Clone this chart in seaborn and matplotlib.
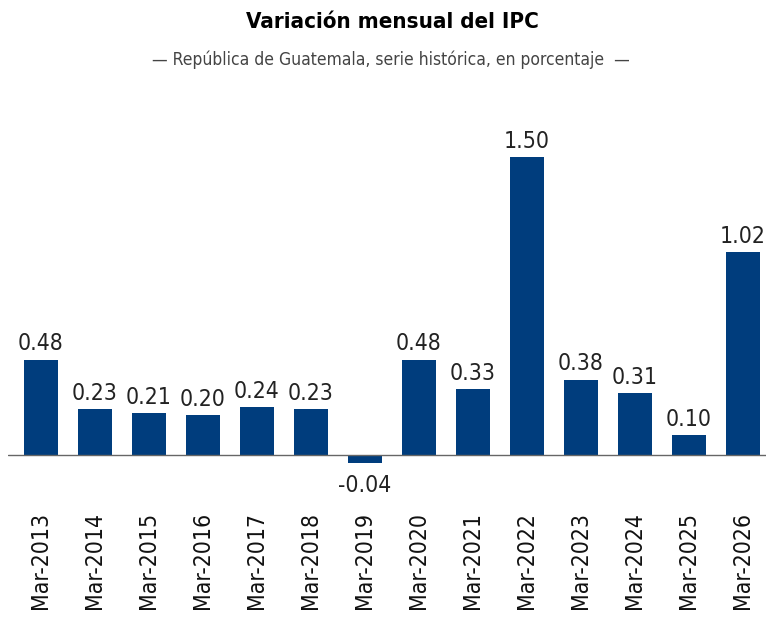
import matplotlib
matplotlib.use("Agg")
import matplotlib.pyplot as plt
import seaborn as sns
import pandas as pd

categories = ["Mar-2013", "Mar-2014", "Mar-2015", "Mar-2016", "Mar-2017", "Mar-2018", "Mar-2019",
              "Mar-2020", "Mar-2021", "Mar-2022", "Mar-2023", "Mar-2024", "Mar-2025", "Mar-2026"]
values = [0.48, 0.23, 0.21, 0.20, 0.24, 0.23, -0.04, 0.48, 0.33, 1.50, 0.38, 0.31, 0.10, 1.02]
title = "Variación mensual del IPC"
subtitle = "— República de Guatemala, serie histórica, en porcentaje  —"

df = pd.DataFrame({"mes": categories, "valor": values})

sns.set_theme(style="white")
plt.rcParams["font.family"] = ["DejaVu Sans"]

W, H = 766, 620
fig = plt.figure(figsize=(W / 100, H / 100), dpi=100)
ax = fig.add_axes([8 / W, (H - 470) / H, 758 / W, 370 / H])

sns.barplot(data=df, x="mes", y="valor", color="#003d7d", saturation=1, width=0.63,
            linewidth=0, ax=ax)

ax.set_xlim(-0.611, 13.43)
ax.set_ylim(-0.0755, 1.787)
for s in ax.spines.values():
    s.set_visible(False)
ax.axhline(0, color="#666666", lw=1, zorder=3)
ax.set_yticks([])
ax.set_xlabel("")
ax.set_ylabel("")
ax.tick_params(axis="x", length=0, pad=30)
plt.setp(ax.get_xticklabels(), rotation=90, ha="center", va="top",
         fontsize=16.5, fontstretch="condensed", color="#111111")

for p, v in zip(ax.patches, values):
    xc = p.get_x() + p.get_width() / 2
    if v >= 0:
        ax.annotate(f"{v:.2f}", (xc, v), xytext=(0, 3), textcoords="offset points",
                    ha="center", va="bottom", fontsize=16.5, fontstretch="condensed",
                    color="#222222")
    else:
        ax.annotate(f"{v:.2f}", (xc, v), xytext=(0, -8), textcoords="offset points",
                    ha="center", va="top", fontsize=16.5, fontstretch="condensed",
                    color="#222222")

fig.text(392 / W, 1 - 22 / H, title, ha="center", va="center", fontsize=16,
         fontweight="bold", fontstretch="condensed", color="#000000")
fig.text(391 / W, 1 - 60 / H, subtitle, ha="center", va="center", fontsize=12.5,
         fontstretch="condensed", color="#444444")

fig.savefig("out.png", dpi=100)
